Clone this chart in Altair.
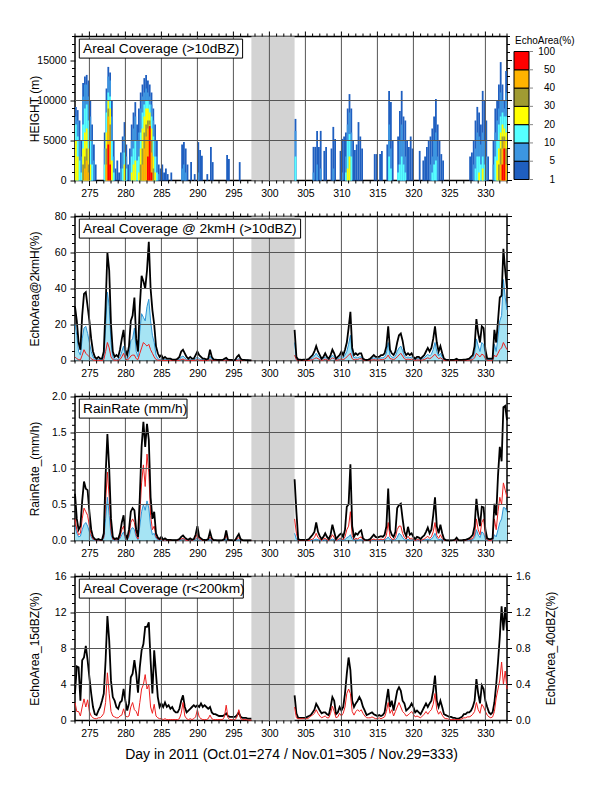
import altair as alt
import pandas as pd

FONT = "Liberation Sans"

# ---------------- sampling of the time series ----------------
STEP = 0.25          # days between samples
START_A = 273.0      # first sample before the data gap
START_B = 303.5      # first sample after the data gap
GAP = (297.5, 303.5) # shaded no-data period
X_DOMAIN = (273, 333)

# ---------------- Panel 1 : echo-area height/time section ----------------
LEVELS = ["1-5", "5-10", "10-20", "20-30", "30-40", "40-50", "50-100"]
LEVEL_COLORS = ["#1f5fc0", "#3c96e1", "#55ffff", "#ffff00", "#a09b32", "#ffb400", "#ff0000"]
LEGEND_LABELS = ["1", "5", "10", "20", "30", "40", "50", "100"]
# each row: [day, top height (km) reached by level >=1%, >=5%, >=10%, >=20%, >=30%, >=40%, >=50%]
HM_OCT_A = [
    [273.00, 9.2, 8.0, 7.0, 5.0], [273.25, 8.8, 7.5, 5.5, 3.0], [273.50, 7.5, 5.0, 2.5],
    [273.75, 5.0, 3.0, 1.0], [274.00, 12.2, 10.5, 7.0, 4.0, 2.0],
    [274.25, 13.0, 12.0, 9.0, 6.0, 3.0, 1.5], [274.50, 13.2, 12.0, 9.5, 6.5, 4.0, 2.5],
    [274.75, 12.5, 10.5, 7.5, 4.0, 2.0, 1.0], [275.00, 10.0, 8.0, 5.0, 2.0],
    [275.25, 7.0, 5.0, 2.0], [275.50, 4.5, 2.5], [275.75, 2.0],
]
HM_OCT_B = [
    [277.00, 6.0, 4.0, 2.0], [277.25, 11.5, 10.0, 8.5, 6.0, 4.0, 2.0],
    [277.50, 14.2, 13.0, 11.0, 10.0, 9.0, 8.0, 4.5], [277.75, 13.5, 12.5, 10.5, 9.0, 7.0, 5.0, 2.0],
    [278.00, 10.0, 8.0, 5.0, 2.5], [278.25, 5.0, 3.0, 1.0], [278.50, 1.5], [278.75, 2.5],
    [279.00, 1.0], [279.25, 3.5, 1.5], [279.50, 5.5, 3.5, 1.5], [279.75, 7.3, 5.5, 3.5, 2.0],
    [280.00, 4.5, 3.0, 1.5], [280.25, 2.0], [280.50, 4.0, 2.0], [280.75, 7.0, 5.0, 3.0, 1.0],
    [281.00, 8.5, 6.5, 4.0, 2.0], [281.25, 9.8, 8.0, 5.0, 2.5], [281.50, 7.0, 5.0, 2.5],
    [281.75, 9.0, 6.0, 3.0, 1.0], [282.00, 11.0, 9.0, 6.0, 4.0, 2.0],
    [282.25, 12.0, 10.5, 8.5, 6.5, 4.0, 2.0], [282.50, 12.8, 11.0, 9.5, 8.0, 6.0, 4.0],
    [282.75, 13.2, 11.5, 10.0, 9.0, 7.0, 5.5], [283.00, 12.5, 11.0, 10.0, 9.0, 7.5, 6.5, 3.0],
    [283.25, 12.0, 10.5, 9.5, 8.5, 7.5, 7.0, 6.8], [283.50, 11.0, 9.5, 8.0, 6.5, 5.0, 3.5, 1.0],
    [283.75, 9.0, 7.5, 5.5, 3.0, 1.5], [284.00, 7.0, 5.0, 3.0, 1.0], [284.25, 5.0, 3.0, 1.0],
    [284.50, 2.0, 0.8], [284.75, 1.5], [285.00, 2.0], [285.25, 1.0], [285.50, 1.5],
    [285.75, 0.8], [286.25, 1.0],
]
HM_OCT_C = [
    [287.75, 4.5, 1.5], [288.00, 4.8, 2.0], [288.25, 4.0, 1.0], [288.50, 2.0], [289.00, 2.3],
    [289.50, 0.8], [290.00, 4.8, 1.0], [290.25, 3.8], [290.50, 3.1], [291.25, 0.8],
    [291.75, 4.2], [292.00, 2.3], [294.00, 3.2], [294.25, 2.7], [295.75, 2.3],
    [303.50, 7.7, 6.2, 3.0],
]
HM_NOV_A = [
    [306.00, 4.2, 1.0], [306.25, 4.2], [306.50, 6.2, 2.0], [306.75, 4.2], [307.00, 6.2, 1.5],
    [307.50, 3.7], [307.75, 4.2], [308.50, 4.0], [308.75, 6.7, 1.5], [309.00, 5.2],
    [309.75, 3.7], [310.00, 5.2, 1.0], [310.25, 5.5], [310.50, 6.0, 3.0, 1.0],
    [310.75, 9.0, 7.0, 5.0, 1.5], [311.00, 10.8, 8.5, 5.8, 3.0], [311.25, 9.0, 6.0, 3.0],
    [311.50, 5.0], [311.75, 3.8], [312.00, 4.5], [312.25, 7.3], [312.50, 5.5], [312.75, 4.0],
    [314.50, 3.3], [314.75, 3.3], [315.25, 3.3], [315.50, 3.7],
]
HM_NOV_B = [
    [316.25, 4.5], [316.50, 11.2, 7.0, 3.0], [316.75, 9.8, 4.0, 1.5], [317.00, 5.0],
    [317.75, 5.5, 2.0, 1.0], [318.00, 8.7, 5.0, 2.0], [318.25, 11.2, 7.0, 3.0],
    [318.50, 8.0, 5.0, 2.0], [318.75, 7.5, 3.0, 1.0], [319.00, 5.0], [319.25, 4.2],
    [319.50, 5.5], [319.75, 4.0], [320.75, 3.7], [321.25, 2.5], [321.50, 3.0], [321.75, 4.2],
    [322.00, 5.0], [322.25, 5.5, 2.0], [322.50, 6.5, 3.0, 1.0], [322.75, 8.0, 5.0, 2.0],
    [323.00, 10.2, 6.0, 2.5], [323.25, 7.0, 3.0], [323.50, 5.0], [323.75, 3.3], [324.00, 2.5],
]
HM_NOV_C = [
    [327.75, 3.0], [328.00, 3.5], [328.25, 5.0, 2.0], [328.50, 7.5, 4.0, 1.5],
    [328.75, 9.2, 6.0, 3.0], [329.00, 8.5, 5.5, 3.0, 1.0], [329.25, 7.0, 4.5, 2.0],
    [329.50, 11.2, 6.0, 3.0, 1.5], [329.75, 10.0, 5.0, 2.0], [330.00, 7.5, 3.0], [330.25, 3.0],
    [331.00, 5.0, 2.0], [331.25, 9.0, 6.0, 3.0], [331.50, 10.0, 7.5, 5.0, 2.5],
    [331.75, 12.0, 9.0, 7.0, 4.0, 2.0], [332.00, 14.8, 11.0, 8.0, 6.0, 4.0, 2.0],
    [332.25, 12.0, 10.0, 8.5, 7.0, 5.5, 4.0, 2.0], [332.50, 10.0, 9.0, 8.0, 6.5, 5.5, 5.0, 4.0],
    [332.75, 13.7, 11.0, 8.0, 6.0, 4.0, 2.0],
]

# ---------------- Panel 2 : areal coverage at 2 km (%) ----------------
P2K_A = [30, 22, 10, 6,  25, 37, 38, 30,  22, 12, 5, 2,  1, 2, 1, 1,  5, 30, 60, 50,
         20, 5, 2, 3,  2, 6, 12, 17,  6, 3, 8, 22,  25, 35, 12, 5,  30, 47, 44, 40,
         50, 66, 40, 28,  20, 8, 4, 2,  3, 1, 2, 1,  1, 1, 0.5, 0.5,  0.5, 1, 2, 5,
         6, 4, 2, 1,  2, 1, 1, 3,  5, 3, 2, 1,  1, 0.5, 1, 6,  2, 0.5, 0.5, 0.3,
         0.3, 0.3, 0.3, 1,  1.5, 0.5, 0.3, 0.3,  0.2, 0.3, 2, 3,  1, 0.3, 0.3, 0.2,
         0.2, 0.1, 0.1]
P2B_A = [20, 14, 5, 3,  12, 18, 19, 15,  10, 5, 2, 0.5,  0.3, 0.5, 0.3, 0.3,  2, 18, 38, 30,
         10, 2, 0.5, 1,  0.5, 2, 5, 8,  2, 1, 3, 11,  12, 18, 5, 2,  16, 26, 24, 22,
         30, 34, 22, 14,  10, 3, 1, 0.5,  1, 0.3, 0.5, 0.3,  0.3, 0.3, 0.1, 0.1,  0.1, 0.3, 0.5, 2,
         2.5, 1.5, 0.5, 0.3,  0.5, 0.3, 0.3, 1,  2, 1, 0.5, 0.3,  0.3, 0.1, 0.3, 2.5,  0.5, 0.1, 0.1, 0.1,
         0.1, 0.1, 0.1, 0.3,  0.5, 0.1, 0.1, 0.1,  0.1, 0.1, 0.5, 1,  0.3, 0.1, 0.1, 0.1,
         0.1, 0, 0]
P2R_A = [2, 1, 0.5, 0.3,  3, 6, 4, 3,  2, 1, 0.3, 0.1,  0, 0.1, 0, 0,  0.5, 5, 10, 7,
         2, 0.5, 0.1, 0.2,  0.1, 0.5, 2, 4,  1, 0.3, 1, 2.5,  3, 3, 1, 0.5,  4, 7, 10, 9,
         8, 9, 6, 4,  2, 0.5, 0.2, 0.1,  0.2, 0, 0.1, 0,  0, 0, 0, 0,  0, 0, 0.1, 0.5,
         0.8, 0.3, 0.1, 0,  0.1, 0, 0, 0.2,  0.5, 0.2, 0.1, 0,  0, 0, 0.1, 0.5,  0.1, 0, 0, 0,
         0, 0, 0, 0.1,  0.2, 0, 0, 0,  0, 0, 0.1, 0.3,  0.1, 0, 0, 0,
         0, 0, 0]
P2K_B = [17, 2,
         0.5, 0.5, 0.3, 0.5,  0.5, 0.5, 1, 2,  3, 5, 8, 5,  3, 1, 2, 4,  2, 1, 3, 6,
         4, 1, 2, 3,  5, 3, 6, 10,  18, 27, 7, 3,  4, 3, 4, 4,  1, 0.5, 0.3, 0.5,
         1, 2, 3, 2,  2, 2, 3, 3,  4, 8, 19, 6,  4, 3, 5, 10,  14, 15, 11, 5,
         3, 4, 3, 4,  2, 1, 2, 2,  1, 2, 3, 5,  7, 5, 7, 12,  19, 10, 5, 8,
         4, 1, 0.5, 0.3,  0.3, 0.3, 0.3, 0.5,  1, 0.3, 0.3, 0.3,  0.5, 0.5, 0.8, 1,
         2, 3, 8, 23,  15, 10, 19, 18,  6, 1, 1, 1,  1, 17, 10, 22,  35, 36, 62, 50,
         40]
P2B_B = [10, 1,
         0.2, 0.2, 0.1, 0.2,  0.2, 0.2, 0.5, 1,  1.5, 2.5, 4, 2.5,  1.5, 0.5, 1, 2,  1, 0.5, 1.5, 3,
         2, 0.5, 1, 1.5,  2.5, 1.5, 3, 5,  9, 14, 3.5, 1.5,  2, 1.5, 2, 2,  0.5, 0.2, 0.1, 0.2,
         0.5, 1, 1.5, 1,  1, 1, 1.5, 1.5,  2, 4, 10, 3,  2, 1.5, 2.5, 5,  7, 8, 5.5, 2.5,
         1.5, 2, 1.5, 2,  1, 0.5, 1, 1,  0.5, 1, 1.5, 2.5,  3.5, 2.5, 3.5, 6,  10, 5, 2.5, 4,
         2, 0.5, 0.2, 0.1,  0.1, 0.1, 0.1, 0.2,  0.5, 0.1, 0.1, 0.1,  0.2, 0.2, 0.3, 0.5,
         1, 1.5, 4, 12,  8, 5, 10, 9,  3, 0.5, 0.5, 0.5,  0.5, 9, 5, 13,  22, 25, 45, 35,
         28]
P2R_B = [3, 0.3,
         0, 0, 0, 0,  0, 0, 0.1, 0.3,  0.5, 1, 1.5, 1,  0.5, 0.1, 0.3, 0.8,  0.3, 0.1, 0.5, 1.5,
         1, 0.1, 0.3, 0.5,  1, 0.5, 1, 2,  3, 4, 1, 0.3,  0.8, 0.5, 1, 1,  0.2, 0, 0, 0,
         0.2, 0.3, 0.5, 0.3,  0.3, 0.3, 0.5, 0.5,  0.8, 1.5, 3, 1,  0.8, 0.5, 1, 2,  3, 4, 2.5, 1,
         0.5, 0.8, 0.5, 0.8,  0.3, 0.1, 0.3, 0.3,  0.1, 0.3, 0.5, 1,  1.5, 1, 1.5, 2.5,  3.5, 2, 1, 1.5,
         0.8, 0.1, 0, 0,  0, 0, 0, 0,  0.1, 0, 0, 0,  0, 0, 0.1, 0.2,
         0.3, 0.5, 1.5, 4,  3, 2, 3.5, 3,  1, 0.1, 0.1, 0.1,  0.1, 3, 2, 4,  6, 7, 10, 8,
         6]

# ---------------- Panel 3 : rain rate (mm/h) ----------------
P3K_A = [0.65, 0.3, 0.15, 0.2,  0.55, 0.82, 0.72, 0.7,  0.4, 0.15, 0.05, 0.02,  0.01, 0.02, 0.01, 0.01,
         0.1, 0.9, 1.48, 1.0,  0.3, 0.05, 0.02, 0.03,  0.02, 0.1, 0.25, 0.35,  0.08, 0.03, 0.15, 0.4,
         0.45, 0.42, 0.15, 0.05,  0.6, 1.3, 1.65, 1.3,  1.62, 1.4, 0.6, 0.3,  0.4, 0.1, 0.04, 0.02,
         0.05, 0.01, 0.03, 0.01,  0.01, 0.01, 0.005, 0.005,  0.005, 0.01, 0.02, 0.05,
         0.07, 0.04, 0.02, 0.01,  0.03, 0.01, 0.02, 0.08,  0.2, 0.05, 0.03, 0.01,
         0.01, 0.005, 0.02, 0.12,  0.03, 0.005, 0.005, 0.003,  0.003, 0.003, 0.005, 0.02,
         0.14, 0.01, 0.005, 0.005,  0.003, 0.005, 0.05, 0.09,  0.02, 0.005, 0.003, 0.003,
         0.002, 0.002, 0.001]
P3R_A = [0.3, 0.15, 0.08, 0.1,  0.3, 0.45, 0.4, 0.35,  0.2, 0.08, 0.02, 0.01,  0, 0.01, 0, 0,
         0.05, 0.55, 0.95, 0.6,  0.15, 0.02, 0.01, 0.01,  0.01, 0.05, 0.15, 0.2,  0.04, 0.01, 0.08, 0.25,
         0.3, 0.25, 0.08, 0.02,  0.35, 0.8, 1.05, 0.75,  1.2, 0.95, 0.35, 0.15,  0.2, 0.05, 0.02, 0.01,
         0.02, 0, 0.01, 0,  0, 0, 0, 0,  0, 0, 0.01, 0.02,
         0.03, 0.01, 0, 0,  0.01, 0, 0.01, 0.03,  0.1, 0.02, 0.01, 0,
         0, 0, 0.01, 0.05,  0.01, 0, 0, 0,  0, 0, 0, 0.01,
         0.07, 0, 0, 0,  0, 0, 0.02, 0.04,  0.01, 0, 0, 0,
         0, 0, 0]
P3B_A = [0.2, 0.1, 0.05, 0.06,  0.15, 0.22, 0.25, 0.2,  0.12, 0.05, 0.01, 0,  0, 0, 0, 0,
         0.03, 0.3, 0.6, 0.35,  0.08, 0.01, 0, 0.01,  0, 0.03, 0.08, 0.12,  0.02, 0.01, 0.05, 0.15,
         0.18, 0.15, 0.05, 0.01,  0.2, 0.4, 0.5, 0.42,  0.55, 0.45, 0.2, 0.08,  0.1, 0.03, 0.01, 0,
         0.01, 0, 0, 0,  0, 0, 0, 0,  0, 0, 0, 0.01,
         0.02, 0.01, 0, 0,  0, 0, 0, 0.01,  0.04, 0.01, 0, 0,
         0, 0, 0, 0.02,  0, 0, 0, 0,  0, 0, 0, 0,
         0.02, 0, 0, 0,  0, 0, 0.01, 0.01,  0, 0, 0, 0,
         0, 0, 0]
P3K_B = [0.85, 0.4,
         0.02, 0.01, 0.01, 0.01,  0.01, 0.01, 0.02, 0.05,  0.08, 0.12, 0.25, 0.12,  0.06, 0.02, 0.05, 0.1,
         0.05, 0.02, 0.08, 0.22,  0.12, 0.02, 0.05, 0.08,  0.1, 0.05, 0.15, 0.47,  0.5, 1.06, 0.2, 0.05,
         0.1, 0.08, 0.12, 0.14,  0.03, 0.01, 0.005, 0.01,  0.02, 0.05, 0.08, 0.05,  0.04, 0.05, 0.06, 0.05,
         0.08, 0.2, 0.72, 0.15,  0.08, 0.05, 0.12, 0.45,  0.49, 0.51, 0.3, 0.12,  0.06, 0.19, 0.08, 0.1,
         0.05, 0.02, 0.05, 0.04,  0.02, 0.05, 0.07, 0.12,  0.18, 0.1, 0.15, 0.35,  0.6, 0.2, 0.1, 0.22,
         0.1, 0.02, 0.005, 0.003,  0.003, 0.003, 0.005, 0.01,  0.04, 0.005, 0.003, 0.003,  0.01, 0.01, 0.02, 0.03,
         0.05, 0.08, 0.2, 0.58,  0.35, 0.2, 0.47, 0.46,  0.15, 0.03, 0.02, 0.02,  0.03, 0.51, 0.35, 0.9,
         1.3, 1.1, 1.85, 1.87,
         1.67]
P3R_B = [0.3, 0.1,
         0, 0, 0, 0,  0, 0, 0, 0.01,  0.02, 0.04, 0.1, 0.04,  0.02, 0, 0.02, 0.03,
         0.01, 0, 0.03, 0.08,  0.04, 0, 0.01, 0.03,  0.03, 0.01, 0.05, 0.15,  0.2, 0.4, 0.07, 0.01,
         0.03, 0.02, 0.04, 0.05,  0.01, 0, 0, 0,  0, 0.01, 0.02, 0.01,  0.01, 0.01, 0.02, 0.01,
         0.02, 0.07, 0.25, 0.05,  0.02, 0.01, 0.04, 0.15,  0.2, 0.2, 0.1, 0.04,  0.02, 0.06, 0.02, 0.03,
         0.01, 0, 0.01, 0.01,  0, 0.01, 0.02, 0.04,  0.06, 0.03, 0.05, 0.12,  0.25, 0.07, 0.03, 0.08,
         0.03, 0, 0, 0,  0, 0, 0, 0,  0.01, 0, 0, 0,  0, 0, 0.01, 0.01,
         0.02, 0.03, 0.08, 0.3,  0.15, 0.08, 0.25, 0.3,  0.06, 0.01, 0, 0,  0.01, 0.3, 0.15, 0.4,
         0.6, 0.5, 0.8, 0.7,
         0.6]
P3B_B = [0.1, 0.02,
         0, 0, 0, 0,  0, 0, 0, 0,  0, 0.01, 0.02, 0.01,  0, 0, 0, 0.01,
         0, 0, 0.01, 0.02,  0.01, 0, 0, 0.01,  0.01, 0, 0.01, 0.04,  0.05, 0.08, 0.02, 0,
         0.01, 0, 0.01, 0.01,  0, 0, 0, 0,  0, 0, 0.01, 0,  0, 0, 0.01, 0,
         0.01, 0.02, 0.05, 0.01,  0.01, 0, 0.01, 0.04,  0.1, 0.08, 0.04, 0.01,  0, 0.02, 0, 0.01,
         0, 0, 0, 0,  0, 0, 0.01, 0.01,  0.02, 0.01, 0.02, 0.05,  0.1, 0.03, 0.01, 0.02,
         0.01, 0, 0, 0,  0, 0, 0, 0,  0, 0, 0, 0,  0, 0, 0, 0,
         0.01, 0.01, 0.04, 0.15,  0.08, 0.04, 0.12, 0.1,  0.02, 0, 0, 0,  0, 0.08, 0.05, 0.15,
         0.25, 0.3, 0.46, 0.45,
         0.4]

# ---------------- Panel 4 : areal coverage within 200 km ----------------
P4K_A = [3, 6, 5.9, 2.2,  6.7, 7, 8.3, 6.7,  4.8, 3, 1.5, 0.7,  0.6, 1.1, 1.5, 2.2,
         3, 6.7, 11.6, 8.9,  4.4, 2.6, 2.2, 1.5,  1.3, 2, 2.2, 3.5,  2.2, 1.1, 1.9, 4.8,
         5.2, 6.7, 5.2, 3.1,  5.9, 7.8, 8.5, 10.4,  10.4, 10.9, 6.7, 3,  7.8, 5.2, 2.6, 1.5,
         1.9, 1.5, 2, 1.5,  1.7, 1.3, 1.5, 1.1,  0.9, 0.9, 1.3, 2.2,  2.8, 1.5, 0.9, 1.1,
         1.3, 1.5, 1.7, 1.5,  1.7, 1.5, 1.9, 1.5,  1.7, 1.5, 1.3, 1.5,  0.9, 0.7, 0.7, 0.6,
         0.5, 0.5, 0.5, 0.6,  0.8, 0.5, 0.4, 0.4,  0.4, 0.4, 0.6, 0.9,  0.4, 0.3, 0.3, 0.3,
         0.2, 0.2, 0.2]
P4R_A = [0.2, 0.1, 0.1, 0.05,  0.15, 0.24, 0.15, 0.23,  0.1, 0.05, 0.03, 0.02,  0.02, 0.03, 0.03, 0.05,
         0.08, 0.2, 0.53, 0.3,  0.1, 0.05, 0.04, 0.03,  0.03, 0.05, 0.06, 0.13,  0.05, 0.04, 0.05, 0.15,
         0.2, 0.12, 0.1, 0.05,  0.2, 0.35, 0.4, 0.51,  0.35, 0.4, 0.15, 0.08,  0.18, 0.05, 0.03, 0.02,
         0.02, 0.01, 0.02, 0.01,  0.01, 0.01, 0.01, 0.01,  0.01, 0.01, 0.02, 0.08,  0.2, 0.05, 0.02, 0.01,
         0.02, 0.01, 0.02, 0.04,  0.12, 0.04, 0.02, 0.01,  0.01, 0.01, 0.02, 0.06,  0.02, 0.01, 0.01, 0.01,
         0.01, 0.01, 0.01, 0.04,  0.17, 0.03, 0.01, 0.01,  0.01, 0.01, 0.04, 0.12,  0.02, 0.01, 0.01, 0.01,
         0.005, 0.005, 0.005]
P4K_B = [2.8, 0.8,
         0.3, 0.3, 0.3, 0.3,  0.3, 0.4, 0.5, 0.6,  0.9, 1.2, 1.85, 1.5,  1.1, 0.8, 0.9, 0.9,
         0.7, 0.6, 1.5, 2.6,  2.2, 0.7, 0.9, 1.5,  1.1, 1.5, 3, 5.2,  7, 5.6, 2.2, 1.5,
         1.9, 2.2, 2.6, 2.2,  1.5, 1.1, 0.6, 0.7,  0.8, 0.9, 0.7, 0.6,  0.5, 0.6, 0.5, 0.6,
         0.9, 2.2, 3.5, 1.5,  2.2, 1.1, 2.2, 3.3,  3.7, 3.3, 2.2, 1.9,  1.1, 1.3, 1.5, 1.9,
         1.5, 0.9, 1.1, 0.9,  0.7, 1.1, 1.5, 1.9,  1.5, 1.9, 2.2, 3.3,  5, 2.2, 1.5, 2.2,
         1.5, 0.7, 0.6, 0.5,  0.4, 0.4, 0.3, 0.3,  0.2, 0.2, 0.3, 0.4,  0.7, 0.7, 0.9, 0.9,
         1.1, 1.5, 2.2, 4.6,  3, 1.9, 3.9, 3.5,  2.2, 1.5, 0.9, 0.7,  0.9, 2, 4, 6.5,
         9.3, 12.7, 10, 12.6,
         10]
P4R_B = [0.15, 0.03,
         0.02, 0.02, 0.02, 0.02,  0.02, 0.02, 0.03, 0.05,  0.06, 0.08, 0.12, 0.08,  0.05, 0.03, 0.04, 0.05,
         0.03, 0.03, 0.08, 0.16,  0.1, 0.03, 0.04, 0.08,  0.05, 0.08, 0.15, 0.3,  0.35, 0.3, 0.1, 0.06,
         0.1, 0.12, 0.1, 0.12,  0.08, 0.05, 0.03, 0.03,  0.03, 0.04, 0.03, 0.02,  0.02, 0.03, 0.02, 0.03,
         0.04, 0.1, 0.2, 0.08,  0.12, 0.05, 0.1, 0.15,  0.2, 0.15, 0.1, 0.08,  0.05, 0.06, 0.08, 0.1,
         0.07, 0.04, 0.05, 0.04,  0.03, 0.05, 0.07, 0.1,  0.07, 0.1, 0.12, 0.18,  0.3, 0.12, 0.07, 0.1,
         0.06, 0.03, 0.02, 0.02,  0.01, 0.01, 0.01, 0.01,  0.01, 0.01, 0.01, 0.02,  0.03, 0.03, 0.04, 0.04,
         0.05, 0.07, 0.1, 0.2,  0.12, 0.08, 0.18, 0.15,  0.1, 0.06, 0.04, 0.03,  0.04, 0.1, 0.25, 0.35,
         0.45, 0.65, 0.4, 0.55,
         0.35]
P4_RIGHT_TICKS = [0.0, 0.4, 0.8, 1.2, 1.6]      # right-hand axis (40 dBZ) major ticks
P4_RIGHT_TITLE = "EchoArea_40dBZ(%)"

# ---------------- build tables ----------------
n_a, n_b = len(P2K_A), len(P2K_B)
days = [START_A + STEP * i for i in range(n_a)] + [START_B + STEP * i for i in range(n_b)]
lines_df = pd.DataFrame({
    "day": days, "seg": ["a"] * n_a + ["b"] * n_b,
    "p2k": P2K_A + P2K_B, "p2b": P2B_A + P2B_B, "p2r": P2R_A + P2R_B,
    "p3k": P3K_A + P3K_B, "p3r": P3R_A + P3R_B, "p3b": P3B_A + P3B_B,
    "p4k": P4K_A + P4K_B, "p4r": P4R_A + P4R_B,
})

hm_rows = []
for period in [HM_OCT_A, HM_OCT_B, HM_OCT_C, HM_NOV_A, HM_NOV_B, HM_NOV_C]:
    for row in period:
        for k, top in enumerate(row[1:]):
            hm_rows.append({"d0": row[0], "d1": row[0] + STEP, "y0": 0, "y1": top * 1000,
                            "lev": LEVELS[k], "k": k})
hm_df = pd.DataFrame(hm_rows).sort_values(["k", "d0"], kind="stable")

W, H = 432, 144
H1_MAX = 18000
gray_df = pd.DataFrame({"x0": [GAP[0]], "x1": [GAP[1]]})
X_MAJOR = list(range(275, 331, 5))
X_MINOR = [d for d in range(X_DOMAIN[0], X_DOMAIN[1] + 1) if d % 5]
vgrid_df = pd.DataFrame({"gx": X_MAJOR})
xminor_df = pd.DataFrame({"mx": X_MINOR})

# colour bar beside panel 1: pixel rows 143 (bottom) .. 15 (top) expressed in height units
LEG_PX_BOTTOM, LEG_PX_TOP = 143.0, 15.0
leg_edges = [(H - (LEG_PX_BOTTOM - i * (LEG_PX_BOTTOM - LEG_PX_TOP) / 7)) / H * H1_MAX
             for i in range(8)]
legend_df = pd.DataFrame({"lo": leg_edges[:-1], "hi": leg_edges[1:], "lev": LEVELS})
legend_lab_df = pd.DataFrame({"edge": leg_edges, "lab": LEGEND_LABELS})

# ---------------- helpers ----------------
xs = alt.Scale(domain=list(X_DOMAIN), nice=False, zero=False)
cscale = alt.Scale(domain=LEVELS, range=LEVEL_COLORS)
GRID_COLOR = "#555555"
TITLE_SIZE = 13.7


def x_axis(title=None):
    kw = dict(orient="bottom", values=X_MAJOR, grid=False, domain=False, tickColor="black",
              tickSize=5, labelPadding=3, labelFontSize=10.5, labelOverlap=False,
              labelFlush=False)
    if title:
        kw.update(title=title, titleFontSize=14, titlePadding=8)
    else:
        kw.update(title=None)
    return alt.Axis(**kw)


def y_axis(values, fmt, title):
    return alt.Axis(orient="left", values=values, grid=False, domain=False, tickColor="black",
                    tickSize=5, format=fmt, labelPadding=4, labelFontSize=10.5,
                    labelOverlap=False, labelFlush=False, title=title, titleAngle=270,
                    titleFontSize=12, titleX=-41, titleBaseline="middle", titleAlign="center")


class Panel:
    """Holds the scales and the (identical) axis definitions shared by every layer of a panel."""

    def __init__(self, ys, ymajor, yfmt, ytitle, xtitle=None):
        self.ys = ys
        self.xa = x_axis(xtitle)
        self.ya = y_axis(ymajor, yfmt, ytitle)

    def X(self, field):
        return alt.X(f"{field}:Q", scale=xs, axis=self.xa)

    def Y(self, field):
        return alt.Y(f"{field}:Q", scale=self.ys, axis=self.ya, stack=None)

    def ticks(self, df, field, along, p0, p1):
        if along == "x":
            enc = dict(x=self.X(field), y=alt.value(p0), y2=alt.value(p1))
        else:
            enc = dict(y=self.Y(field), x=alt.value(p0), x2=alt.value(p1))
        return alt.Chart(df).mark_rule(color="black", strokeWidth=1).encode(**enc)

    def line(self, field, color, width):
        return alt.Chart(lines_df).mark_line(color=color, strokeWidth=width).encode(
            x=self.X("day"), y=self.Y(field), detail="seg:N")

    def area(self, field, color):
        return alt.Chart(lines_df).mark_area(color=color).encode(
            x=self.X("day"), y=self.Y(field), detail="seg:N")

    def frame(self, ymajor, yminor, box_text, box_w):
        gray = alt.Chart(gray_df).mark_rect(color="#d3d3d3").encode(
            x=self.X("x0"), x2="x1:Q")
        vgrid = alt.Chart(vgrid_df).mark_rule(color=GRID_COLOR, strokeWidth=1).encode(
            x=self.X("gx"))
        hgrid = alt.Chart(pd.DataFrame({"gy": ymajor[1:-1]})).mark_rule(
            color=GRID_COLOR, strokeWidth=1).encode(y=self.Y("gy"))
        ymaj_df = pd.DataFrame({"gy": ymajor})
        ymdf = pd.DataFrame({"my": yminor})
        layers = [vgrid, hgrid,
                  self.ticks(vgrid_df, "gx", "x", -5, 0),       # top major
                  self.ticks(xminor_df, "mx", "x", -3, 0),      # top minor
                  self.ticks(xminor_df, "mx", "x", H, H + 3),   # bottom minor
                  self.ticks(ymdf, "my", "y", -3, 0),           # left minor
                  self.ticks(ymaj_df, "gy", "y", W, W + 5),     # right major
                  self.ticks(ymdf, "my", "y", W, W + 3)]        # right minor
        tdf = pd.DataFrame({"t": [box_text]})
        layers.append(alt.Chart(tdf).mark_rect(fill="white", stroke="black", strokeWidth=1).encode(
            x=alt.value(4.3), x2=alt.value(box_w), y=alt.value(2.6), y2=alt.value(21.6)))
        layers.append(alt.Chart(tdf).mark_text(align="left", baseline="middle", font=FONT,
                                               fontSize=TITLE_SIZE, color="black").encode(
            x=alt.value(8), y=alt.value(12.5), text="t:N"))
        return gray, layers


# ---- panel 1 ----
P1_MAJOR = [0, 5000, 10000, 15000]
p1 = Panel(alt.Scale(domain=[0, H1_MAX], nice=False), P1_MAJOR, "d", "HEIGHT (m)")
g1, top1 = p1.frame(P1_MAJOR, [v for v in range(0, H1_MAX + 1, 1000) if v % 5000],
                    "Areal Coverage (>10dBZ)", 167.6)
heat = alt.Chart(hm_df).mark_rect().encode(
    x=p1.X("d0"), x2="d1:Q", y=p1.Y("y0"), y2="y1:Q",
    color=alt.Color("lev:N", scale=cscale, legend=None))
leg_rect = alt.Chart(legend_df).mark_rect(stroke="black", strokeWidth=1).encode(
    x=alt.value(439), x2=alt.value(454), y=p1.Y("lo"), y2="hi:Q",
    color=alt.Color("lev:N", scale=cscale, legend=None))
leg_ticks = alt.Chart(legend_lab_df).mark_rule(color="#888888", strokeWidth=1).encode(
    x=alt.value(454), x2=alt.value(458), y=p1.Y("edge"))
leg_text = alt.Chart(legend_lab_df).mark_text(
    align="right", baseline="middle", font=FONT, fontSize=10, color="black").encode(
    x=alt.value(480), y=p1.Y("edge"), text="lab:N")
leg_title = alt.Chart(pd.DataFrame({"t": ["EchoArea(%)"]})).mark_text(
    align="left", baseline="middle", font=FONT, fontSize=10, color="black").encode(
    x=alt.value(440), y=alt.value(4.5), text="t:N")
panel1 = alt.layer(g1, heat, *top1, leg_rect, leg_ticks, leg_text, leg_title).properties(
    width=W, height=H)

# ---- panel 2 ----
P2_MAJOR = [0, 20, 40, 60, 80]
p2 = Panel(alt.Scale(domain=[0, 80], nice=False), P2_MAJOR, "d", "EchoArea@2kmH(%)")
g2, top2 = p2.frame(P2_MAJOR, [v for v in range(0, 81, 5) if v % 20],
                    "Areal Coverage @ 2kmH (>10dBZ)", 225.6)
panel2 = alt.layer(g2, p2.area("p2b", "#a6e4f4"), p2.line("p2b", "#2f95d6", 1),
                   p2.line("p2r", "#ee2020", 1), p2.line("p2k", "black", 1.8),
                   *top2).properties(width=W, height=H)

# ---- panel 3 ----
P3_MAJOR = [0.0, 0.5, 1.0, 1.5, 2.0]
p3 = Panel(alt.Scale(domain=[0, 2], nice=False), P3_MAJOR, ".1f", "RainRate_(mm/h)")
g3, top3 = p3.frame(P3_MAJOR, [round(0.1 * i, 1) for i in range(21) if i % 5],
                    "RainRate (mm/h)", 112)
panel3 = alt.layer(g3, p3.area("p3b", "#a6e4f4"), p3.line("p3b", "#2f95d6", 1),
                   p3.line("p3r", "#ee2020", 1), p3.line("p3k", "black", 1.8),
                   *top3).properties(width=W, height=H)

# ---- panel 4 : 40 dBZ curve on a right-hand scale ten times finer ----
P4_MAJOR = [0, 4, 8, 12, 16]
p4 = Panel(alt.Scale(domain=[0, 16], nice=False), P4_MAJOR, "d", "EchoArea_15dBZ(%)",
           xtitle="Day in 2011 (Oct.01=274 / Nov.01=305 / Nov.29=333)")
g4, top4 = p4.frame(P4_MAJOR, [v for v in range(17) if v % 4], "Areal Coverage (r<200km)", 168.3)
# both scales share the same pixel band, so the red curve is drawn through the left scale
red4 = alt.Chart(lines_df).transform_calculate(p4r_left="datum.p4r * 10").mark_line(
    color="#ee2020", strokeWidth=1).encode(x=p4.X("day"), y=p4.Y("p4r_left"), detail="seg:N")
r4_df = pd.DataFrame({"v": [v * 10 for v in P4_RIGHT_TICKS],
                      "lab": [f"{v:.1f}" for v in P4_RIGHT_TICKS]})
r4_labels = alt.Chart(r4_df).mark_text(align="left", baseline="middle", font=FONT,
                                       fontSize=10.5, color="black").encode(
    x=alt.value(W + 9), y=p4.Y("v"), text="lab:N")
r4_title = alt.Chart(pd.DataFrame({"t": [P4_RIGHT_TITLE]})).mark_text(
    align="center", baseline="middle", angle=270, font=FONT, fontSize=12, color="black").encode(
    x=alt.value(W + 43.5), y=alt.value(H / 2), text="t:N")
panel4 = alt.layer(g4, p4.line("p4k", "black", 1.8), red4, *top4, r4_labels,
                   r4_title).properties(width=W, height=H)

chart = alt.vconcat(panel1, panel2, panel3, panel4, spacing=9).properties(
    padding={"left": 19, "top": 21.5, "right": 5, "bottom": 5}
).configure_view(stroke="black", strokeWidth=1.5).configure_axis(
    labelFont=FONT, titleFont=FONT, labelColor="black", titleColor="black",
    titleFontWeight="normal")

chart.save("out.html", embed_options={"renderer": "svg", "actions": False})
